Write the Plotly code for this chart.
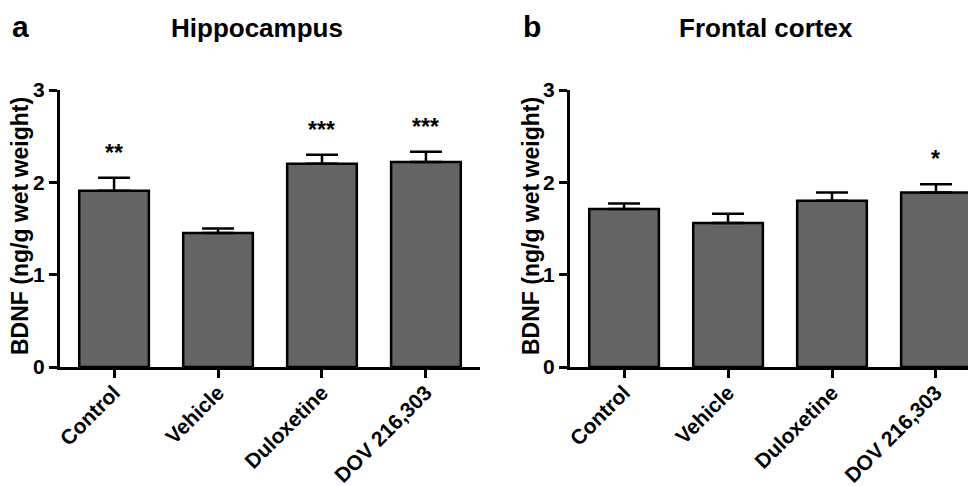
import plotly.graph_objects as go

categories = ["Control", "Vehicle", "Duloxetine", "DOV 216,303"]
hippo_mean = [1.91, 1.45, 2.20, 2.22]
hippo_sem = [0.14, 0.05, 0.10, 0.11]
hippo_sig = ["**", "", "***", "***"]
frontal_mean = [1.71, 1.56, 1.80, 1.89]
frontal_sem = [0.06, 0.10, 0.09, 0.09]
frontal_sig = ["", "", "", "*"]
y_ticks = [0, 1, 2, 3]
y_title = "BDNF (ng/g wet weight)"
panel_titles = ["Hippocampus", "Frontal cortex"]
panel_letters = ["a", "b"]

# page body has an 8px margin: figure sized to fit the window after it
OFF = 8
W, H = 976 - OFF, 486 - OFF
FONT = "Arial, Liberation Sans, sans-serif"
BAR_FILL = "#646464"


def px(xr):
    return (xr - OFF) / W


def py(yr):
    return (486 - yr) / H


fig = go.Figure()

panels = [
    dict(mean=hippo_mean, sem=hippo_sem, sig=hippo_sig, xa="x", ya="y",
         dom=[px(60), px(480)], rng=[-0.52, 3.52]),
    dict(mean=frontal_mean, sem=frontal_sem, sig=frontal_sig, xa="x2", ya="y2",
         dom=[px(570), 1.0], rng=[-0.52, 3.385]),
]

ydom = [py(367), py(90)]
annotations = []
for i, p in enumerate(panels):
    fig.add_trace(go.Bar(
        x=categories, y=p["mean"], xaxis=p["xa"], yaxis=p["ya"],
        width=0.67,
        marker=dict(color=BAR_FILL, line=dict(color="black", width=2.5)),
        error_y=dict(type="data", symmetric=False, array=p["sem"],
                     arrayminus=[0] * len(p["sem"]),
                     color="black", thickness=2.5, width=16),
        showlegend=False, hoverinfo="x+y",
    ))
    for c, m, s, sig in zip(categories, p["mean"], p["sem"], p["sig"]):
        if sig:
            annotations.append(dict(
                x=c, y=m + s, xref=p["xa"], yref=p["ya"], text=sig,
                showarrow=False, yanchor="bottom", yshift=10,
                font=dict(family=FONT, size=23, color="black", weight="bold"),
            ))
    axis_common = dict(showline=True, linewidth=3, linecolor="black",
                       ticks="outside", tickwidth=3, ticklen=8, tickcolor="black",
                       showgrid=False, zeroline=False, automargin=False)
    fig.layout[("xaxis" if i == 0 else "xaxis2")] = dict(
        domain=p["dom"], range=p["rng"], anchor=p["ya"], tickangle=-45,
        tickfont=dict(family=FONT, size=21, color="black", weight="bold"),
        ticklabelstandoff=-6,
        type="category", **axis_common)
    fig.layout[("yaxis" if i == 0 else "yaxis2")] = dict(
        domain=ydom, range=[0, 3.0], anchor=p["xa"], tickvals=y_ticks,
        tickfont=dict(family=FONT, size=21, color="black", weight="bold"),
        **axis_common)

# panel titles, letters, y-axis titles
title_x = [257, 766]
letter_x = [20, 532]
ytitle_x = [20, 531]
for i in range(2):
    annotations.append(dict(
        x=px(title_x[i]), y=py(28), xref="paper", yref="paper",
        text=panel_titles[i], showarrow=False, xanchor="center", yanchor="middle",
        font=dict(family=FONT, size=26, color="black", weight="bold")))
    annotations.append(dict(
        x=px(letter_x[i]), y=py(26), xref="paper", yref="paper",
        text=panel_letters[i], showarrow=False, xanchor="center", yanchor="middle",
        font=dict(family=FONT, size=30, color="black", weight="bold")))
    annotations.append(dict(
        x=px(ytitle_x[i]), y=py(226), xref="paper", yref="paper",
        text=y_title, showarrow=False, xanchor="center", yanchor="middle",
        textangle=-90,
        font=dict(family=FONT, size=23, color="black", weight="bold")))

fig.update_layout(
    width=W, height=H,
    margin=dict(l=0, r=0, t=0, b=0),
    paper_bgcolor="white", plot_bgcolor="white",
    annotations=annotations,
)

fig.write_html("out.html")
